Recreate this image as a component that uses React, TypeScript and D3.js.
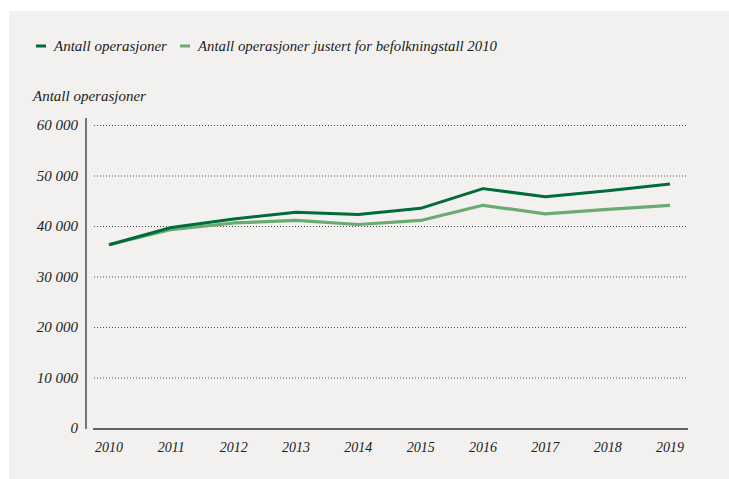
import React from "react";
import * as d3 from "d3";

const years = [2010, 2011, 2012, 2013, 2014, 2015, 2016, 2017, 2018, 2019];
const operasjoner = [36300, 39700, 41400, 42700, 42300, 43500, 47400, 45800, 47000, 48300];
const justert = [36300, 39300, 40600, 41100, 40300, 41100, 44100, 42400, 43300, 44100];
const yTicks = [0, 10000, 20000, 30000, 40000, 50000, 60000];
const seriesNames = ["Antall operasjoner", "Antall operasjoner justert for befolkningstall 2010"];
const yTitle = "Antall operasjoner";

const DARK = "#006b3b";
const LIGHT = "#6aab72";
const FONT = "'Liberation Serif', serif";

export default function App() {
  const W = 729, H = 479;
  const x = d3.scaleLinear().domain([2010, 2019]).range([109, 670]);
  const y = d3.scaleLinear().domain([0, 60000]).range([428, 125]);
  const line = d3.line<number>().x((_, i) => x(years[i])).y((d) => y(d));
  const fmt2 = (v: number) => (v === 0 ? "0" : `${Math.floor(v / 1000)} 000`);

  return (
    <svg width={W} height={H} style={{ position: "absolute", left: 0, top: 0 }}>
      <rect x={9} y={11} width={W - 9} height={H - 11} fill="#f2f1ef" />
      <g fontFamily={FONT} fontStyle="italic" fontSize={15} fill="#222">
        <line x1={36} x2={46} y1={46} y2={46} stroke={DARK} strokeWidth={3} />
        <text x={54} y={51}>{seriesNames[0]}</text>
        <line x1={180} x2={190} y1={46} y2={46} stroke={LIGHT} strokeWidth={3} />
        <text x={198} y={51} textLength={299} lengthAdjust="spacingAndGlyphs">{seriesNames[1]}</text>
        <text x={33} y={101}>{yTitle}</text>
      </g>
      {yTicks.filter((t) => t > 0).map((t) => (
        <line key={t} x1={94} x2={688} y1={y(t) + 0.5} y2={y(t) + 0.5} stroke="#555" strokeWidth={1} strokeDasharray="1 2" />
      ))}
      <line x1={86} x2={86} y1={118} y2={429} stroke="#333" strokeWidth={1.3} />
      <line x1={93} x2={688} y1={429} y2={429} stroke="#333" strokeWidth={1.3} />
      <g fontFamily={FONT} fontStyle="italic" fill="#222">
        {yTicks.map((t) => (
          <text key={t} x={78} y={y(t) + 5} textAnchor="end" fontSize={15}>{fmt2(t)}</text>
        ))}
        {years.map((yr) => (
          <text key={yr} x={x(yr)} y={452} textAnchor="middle" fontSize={14}>{yr}</text>
        ))}
      </g>
      <path d={line(justert) || ""} fill="none" stroke={LIGHT} strokeWidth={3.2} strokeLinejoin="round" />
      <path d={line(operasjoner) || ""} fill="none" stroke={DARK} strokeWidth={3} strokeLinejoin="round" />
    </svg>
  );
}
